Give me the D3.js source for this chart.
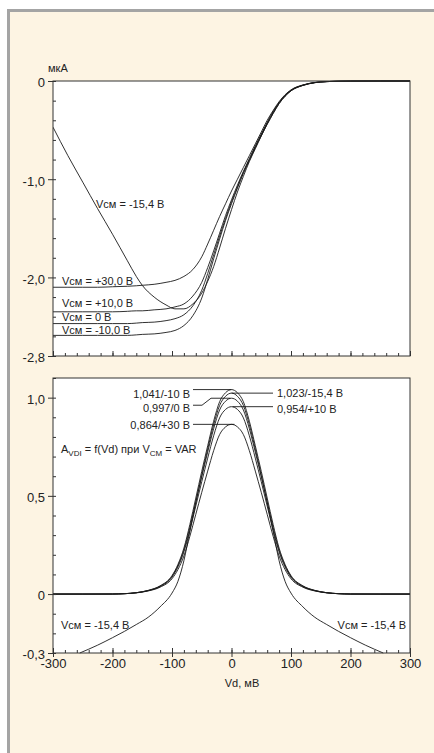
<!DOCTYPE html>
<html>
<head>
<meta charset="utf-8">
<script src="https://cdn.jsdelivr.net/npm/d3@7"></script>
<style>
body { margin: 0; background: #fff; }
svg text { font-family: "Liberation Sans", Arial, sans-serif; fill: #222; }
</style>
</head>
<body>
<svg id="chart"></svg>
<script>
// Top chart: input current (мкА) vs Vd (мВ), one curve per Vсм
const vdTop = [-300,-275,-250,-225,-200,-175,-160,-150,-130,-110,-95,-80,-65,-50,-40,-30,-20,-10,0,10,20,30,40,50,60,70,80,90,100,120,140,160,200,250,300];
const iP30  = [-2.10,-2.10,-2.10,-2.10,-2.095,-2.09,-2.085,-2.08,-2.07,-2.05,-2.03,-1.99,-1.92,-1.79,-1.66,-1.52,-1.38,-1.25,-1.12,-1.00,-0.88,-0.76,-0.64,-0.52,-0.40,-0.30,-0.21,-0.14,-0.09,-0.04,-0.015,-0.006,-0.001,0,0];
const iP10  = [-2.35,-2.35,-2.35,-2.35,-2.35,-2.345,-2.34,-2.34,-2.33,-2.32,-2.30,-2.27,-2.19,-2.05,-1.90,-1.73,-1.55,-1.37,-1.21,-1.06,-0.92,-0.79,-0.66,-0.54,-0.42,-0.31,-0.22,-0.145,-0.095,-0.042,-0.016,-0.006,-0.001,0,0];
const iZero = [-2.47,-2.47,-2.47,-2.47,-2.47,-2.47,-2.465,-2.46,-2.455,-2.44,-2.42,-2.38,-2.29,-2.13,-1.96,-1.77,-1.58,-1.40,-1.23,-1.08,-0.93,-0.80,-0.67,-0.55,-0.43,-0.32,-0.22,-0.15,-0.095,-0.043,-0.016,-0.006,-0.001,0,0];
const iM10  = [-2.59,-2.59,-2.59,-2.59,-2.59,-2.59,-2.585,-2.58,-2.575,-2.56,-2.54,-2.49,-2.39,-2.21,-2.02,-1.81,-1.61,-1.42,-1.25,-1.09,-0.94,-0.81,-0.68,-0.56,-0.44,-0.33,-0.23,-0.155,-0.10,-0.045,-0.017,-0.006,-0.001,0,0];
const iM154 = [-0.47,-0.76,-1.03,-1.30,-1.56,-1.83,-1.99,-2.08,-2.20,-2.28,-2.32,-2.32,-2.27,-2.16,-2.04,-1.89,-1.70,-1.50,-1.31,-1.13,-0.97,-0.82,-0.69,-0.56,-0.44,-0.33,-0.23,-0.155,-0.10,-0.045,-0.017,-0.006,-0.001,0,0];
const topLabels = ["Vсм = -15,4 В", "Vсм = +30,0 В", "Vсм = +10,0 В", "Vсм = 0 В", "Vсм = -10,0 В"];

// Bottom chart: gain A_VDI vs Vd
const vdGain = [-300,-250,-200,-180,-160,-140,-120,-100,-90,-80,-70,-60,-50,-40,-30,-20,-10,0,10,20,30,40,50,60,70,80,90,100,120,140,160,180,200,250,300];
const aM10  = [0,0,0.001,0.002,0.007,0.019,0.042,0.094,0.151,0.234,0.354,0.489,0.625,0.755,0.880,0.979,1.025,1.041,1.025,0.979,0.880,0.755,0.625,0.489,0.354,0.234,0.151,0.094,0.042,0.019,0.007,0.002,0.001,0,0];
const aZero = [0,0,0,0.002,0.007,0.018,0.040,0.090,0.145,0.224,0.339,0.469,0.598,0.723,0.842,0.937,0.982,0.997,0.982,0.937,0.842,0.723,0.598,0.469,0.339,0.224,0.145,0.090,0.040,0.018,0.007,0.002,0,0,0];
const aP10  = [0,0,0,0.002,0.007,0.017,0.038,0.086,0.138,0.215,0.324,0.448,0.572,0.692,0.806,0.897,0.940,0.954,0.940,0.897,0.806,0.692,0.572,0.448,0.324,0.215,0.138,0.086,0.038,0.017,0.007,0.002,0,0,0];
const aP30  = [0,0,0,0.002,0.006,0.016,0.035,0.078,0.125,0.194,0.294,0.406,0.518,0.626,0.730,0.812,0.851,0.864,0.851,0.812,0.730,0.626,0.518,0.406,0.294,0.194,0.125,0.078,0.035,0.016,0.006,0.002,0,0,0];
const vdM154 = [-255,-225,-200,-180,-160,-140,-120,-100,-90,-80,-70,-60,-50,-40,-30,-20,-10,0,10,20,30,40,50,60,70,80,90,100,120,140,160,180,200,225,255];
const aM154 = [-0.30,-0.26,-0.222,-0.19,-0.155,-0.118,-0.065,0.005,0.065,0.17,0.32,0.465,0.605,0.738,0.862,0.960,1.007,1.023,1.007,0.960,0.862,0.738,0.605,0.465,0.32,0.17,0.065,0.005,-0.065,-0.118,-0.155,-0.19,-0.222,-0.26,-0.30];
const peakValues = [1.041, 0.997, 0.864, 1.023, 0.954];
const peakLabels = ["1,041/-10 В", "0,997/0 В", "0,864/+30 В", "1,023/-15,4 В", "0,954/+10 В"];

// Axis ticks
const xTicks = [-300,-200,-100,0,100,200,300];
const iTicks = [0,-1,-2,-2.8];
const aTicks = [1,0.5,0,-0.3];

const width = 434, height = 753;
const svg = d3.select("#chart").attr("width", width).attr("height", height);

// panel background with grey edge
svg.append("rect").attr("x", 7).attr("y", 9).attr("width", width - 7).attr("height", height - 9).attr("fill", "#a4a4a4");
svg.append("rect").attr("x", 10).attr("y", 12).attr("width", width - 10).attr("height", height - 12).attr("fill", "#fdf4e3");

const x = d3.scaleLinear().domain([-300, 300]).range([53, 410]);
const yI = d3.scaleLinear().domain([-2.8, 0]).range([356, 81]);
const yA = d3.scaleLinear().domain([-0.3, 1.1]).range([653, 378]);

const fmt = d => d === 0 ? "0" : (d < 0 ? "-" : "") + Math.abs(d).toFixed(1).replace(".", ",");

function plotBox(y, id) {
    const [y0, y1] = [y.range()[1], y.range()[0]];
    svg.append("rect").attr("x", 53).attr("y", y0).attr("width", 357).attr("height", y1 - y0).attr("fill", "#fff");
    svg.append("clipPath").attr("id", id).append("rect")
        .attr("x", 53).attr("y", y0 - 1).attr("width", 357).attr("height", y1 - y0 + 2);
}

function frame(y) {
    const [y0, y1] = [y.range()[1], y.range()[0]];
    svg.append("rect").attr("x", 53).attr("y", y0).attr("width", 357).attr("height", y1 - y0)
        .attr("fill", "none").attr("stroke", "#333").attr("stroke-width", 1);
}

function curves(xs, series, y, clip) {
    const line = d3.line().x(d => x(d[0])).y(d => y(d[1])).curve(d3.curveMonotoneX);
    svg.append("g").attr("clip-path", `url(#${clip})`)
        .selectAll("path").data(series).join("path")
        .attr("d", s => line(d3.zip(s.xs || xs, s.ys)))
        .attr("fill", "none").attr("stroke", "#1a1a1a").attr("stroke-width", 0.9);
}

function yAxis(y, ticks, minorStep) {
    const [lo, hi] = y.domain();
    svg.append("g").attr("transform", "translate(53,0)")
        .call(d3.axisLeft(y).tickValues(ticks).tickFormat(fmt).tickSize(5).tickPadding(3))
        .call(g => g.select(".domain").remove())
        .call(g => g.selectAll("line").attr("stroke", "#333"))
        .call(g => g.selectAll("text").attr("font-size", 13).attr("dy", "0.45em"));
    const minor = d3.range(Math.round(lo / minorStep), Math.round(hi / minorStep) + 1).map(i => i * minorStep);
    svg.append("g").attr("transform", "translate(53,0)")
        .call(d3.axisLeft(y).tickValues(minor).tickFormat("").tickSize(-3))
        .call(g => g.select(".domain").remove())
        .call(g => g.selectAll("line").attr("stroke", "#333"));
}

function xAxis(y, labels) {
    const yb = y.range()[0];
    svg.append("g").attr("transform", `translate(0,${yb})`)
        .call(d3.axisBottom(x).tickValues(d3.range(-300, 301, 20)).tickFormat("").tickSize(-3))
        .call(g => g.select(".domain").remove())
        .call(g => g.selectAll("line").attr("stroke", "#333"));
    svg.append("g").attr("transform", `translate(0,${yb})`)
        .call(d3.axisBottom(x).tickValues(xTicks).tickFormat("").tickSize(-5))
        .call(g => g.select(".domain").remove())
        .call(g => g.selectAll("line").attr("stroke", "#333"));
    if (labels) {
        svg.append("g").attr("transform", `translate(0,${yb})`)
            .call(d3.axisBottom(x).tickValues(xTicks).tickFormat(d => (d < 0 ? "-" : "") + Math.abs(d)).tickSize(4).tickPadding(2))
            .call(g => g.select(".domain").remove())
            .call(g => g.selectAll("line").attr("stroke", "#333"))
            .call(g => g.selectAll("text").attr("font-size", 13));
    }
}

function label(txt, px, py, anchor) {
    return svg.append("text").attr("x", px).attr("y", py).attr("font-size", 11)
        .attr("text-anchor", anchor || "start").text(txt);
}

// ---- top chart ----
plotBox(yI, "clipTop");
curves(vdTop, [{ys: iP30}, {ys: iP10}, {ys: iZero}, {ys: iM10}, {ys: iM154}], yI, "clipTop");
frame(yI);
yAxis(yI, iTicks, 0.2);
xAxis(yI, false);
label("мкА", 48, 72);
label(topLabels[0], 96, 207.5);
label(topLabels[1], 62, 284.5);
label(topLabels[2], 62, 307);
label(topLabels[3], 62, 321);
label(topLabels[4], 62, 333.5);

// ---- bottom chart ----
plotBox(yA, "clipBot");
curves(vdGain, [{ys: aP30}, {ys: aP10}, {ys: aZero}, {ys: aM10}, {xs: vdM154, ys: aM154}], yA, "clipBot");
frame(yA);
yAxis(yA, aTicks, 0.1);
xAxis(yA, true);

// peak leaders
const lead = d3.line();
const leaders = [
    [[193, yA(peakValues[0])], [x(0), yA(peakValues[0])]],
    [[193, yA(peakValues[1]) + 7], [202, yA(peakValues[1]) + 7], [211, yA(peakValues[1])], [x(-2), yA(peakValues[1])]],
    [[193, yA(peakValues[2])], [x(5), yA(peakValues[2])]],
    [[x(0), yA(peakValues[3])], [273, yA(peakValues[3])]],
    [[x(2), yA(peakValues[4])], [273, yA(peakValues[4])]]
];
svg.append("g").selectAll("path").data(leaders).join("path")
    .attr("d", lead).attr("fill", "none").attr("stroke", "#1a1a1a").attr("stroke-width", 0.9);
label(peakLabels[0], 190, 397.5, "end");
label(peakLabels[1], 190, 411.5, "end");
label(peakLabels[2], 190, 428.5, "end");
label(peakLabels[3], 277, 397);
label(peakLabels[4], 277, 412.5);

const ann = label("", 61, 453);
ann.append("tspan").text("A");
ann.append("tspan").attr("font-size", 8).attr("dy", 2.5).text("VDI");
ann.append("tspan").attr("dy", -2.5).text(" = f(Vd) при V");
ann.append("tspan").attr("font-size", 8).attr("dy", 2.5).text("CM");
ann.append("tspan").attr("dy", -2.5).text(" = VAR");

label("Vсм = -15,4 В", 61, 629);
label("Vсм = -15,4 В", 406, 629, "end");
label("Vd, мВ", 242, 687, "middle");
</script>
</body>
</html>
